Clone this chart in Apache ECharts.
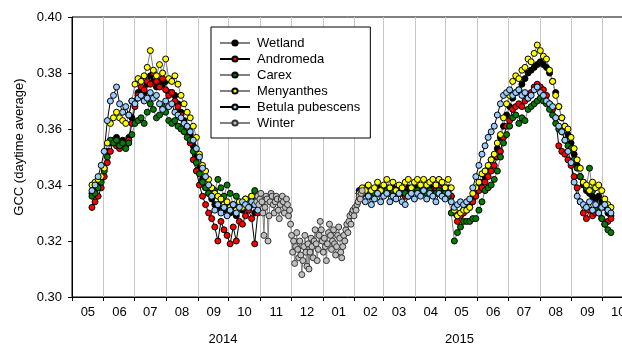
<!DOCTYPE html>
<html><head><meta charset="utf-8">
<script src="https://cdn.jsdelivr.net/npm/echarts@6/dist/echarts.min.js"></script>
<style>html,body{margin:0;padding:0;background:#fff}#c{width:622px;height:346px}</style>
</head><body><div id="c"></div>
<script>
// ---------- data ----------
const axisStart = '2014-05-01';
const axisEnd = '2015-10-31';
const yearLabels = ['2014', '2015'];
const yearLabelDates = ['2014-09-25', '2015-05-14'];
const seriesNames = ['Wetland', 'Andromeda', 'Carex', 'Menyanthes', 'Betula pubescens', 'Winter'];

const season2014Start = '2014-05-20', season2014Step = 3;
const season2015Start = '2015-02-05', season2015Step = 3;
const winterStart = '2014-10-28', winterStep = 1;
const gapDate = '2014-12-15';

const wetland2014 = [0.337,0.338,0.340,0.342,0.346,0.352,0.355,0.356,0.357,0.355,0.356,0.355,0.357,0.364,0.370,0.373,0.373,0.373,0.376,0.379,0.377,0.375,0.377,0.376,0.377,0.373,0.373,0.372,0.369,0.366,0.363,0.360,0.358,0.354,0.350,0.346,0.342,0.339,0.337,0.335,0.333,0.332,0.334,0.331,0.332,0.330,0.331,0.329,0.332,0.331,0.333,0.332,0.333,0.330,0.331];
const andromeda2014 = [0.332,0.334,0.336,0.339,0.343,0.348,0.352,0.356,0.354,0.353,0.355,0.354,0.356,0.362,0.368,0.372,0.375,0.374,0.377,0.376,0.380,0.377,0.375,0.378,0.374,0.372,0.373,0.370,0.368,0.365,0.362,0.360,0.355,0.349,0.345,0.340,0.336,0.333,0.330,0.328,0.325,0.320,0.327,0.324,0.322,0.319,0.325,0.320,0.327,0.326,0.329,0.331,0.328,0.319,0.330];
const carex2014 = [0.336,0.337,0.339,0.341,0.345,0.350,0.356,0.355,0.356,0.354,0.355,0.353,0.355,0.358,0.362,0.363,0.364,0.362,0.366,0.369,0.367,0.364,0.365,0.368,0.366,0.363,0.362,0.363,0.361,0.360,0.359,0.357,0.356,0.352,0.348,0.344,0.341,0.339,0.337,0.336,0.338,0.342,0.339,0.336,0.340,0.337,0.333,0.336,0.334,0.332,0.335,0.334,0.336,0.338,0.335];
const menyanthes2014 = [0.340,0.341,0.342,0.343,0.346,0.355,0.362,0.364,0.366,0.364,0.363,0.362,0.365,0.370,0.376,0.378,0.377,0.379,0.382,0.388,0.381,0.379,0.383,0.380,0.385,0.378,0.377,0.379,0.376,0.372,0.369,0.366,0.364,0.361,0.357,0.351,0.347,0.345,0.342,0.339,0.337,0.336,0.335,0.333,0.334,0.332,0.333,0.331,0.334,0.332,0.335,0.333,0.336,0.334,0.333];
const betula2014 = [0.338,0.340,0.343,0.347,0.352,0.363,0.370,0.372,0.375,0.369,0.366,0.368,0.365,0.370,0.369,0.371,0.372,0.370,0.371,0.373,0.371,0.372,0.369,0.367,0.370,0.368,0.369,0.366,0.365,0.364,0.362,0.361,0.359,0.356,0.353,0.350,0.346,0.343,0.340,0.336,0.331,0.333,0.330,0.332,0.329,0.331,0.333,0.330,0.332,0.334,0.333,0.332,0.334,0.333,0.331];

const winterValues = [
  0.334,0.336,0.333,0.335,
  0.337,0.334,0.330,0.322,0.332,0.336,0.335,0.320,0.329,0.334,0.337,0.336,0.333,0.330,0.334,0.336,0.335,0.331,0.328,0.333,0.335,0.336,0.334,0.330,0.332,0.335,0.333,0.329,0.331,0.326,
  0.322,0.316,0.320,0.312,0.318,0.323,0.317,0.314,0.320,0.315,0.308,0.313,0.318,0.322,0.316,0.311,0.319,0.310,0.316,0.321,0.318,0.314,0.320,0.324,0.319,0.313,0.317,0.322,0.327,0.324,0.320,
  0.316,0.321,0.318,0.313,0.319,0.323,0.326,0.322,0.317,0.320,0.324,0.319,0.315,0.318,0.322,0.325,0.321,0.316,0.314,0.318,0.322,0.320,0.324,0.326,0.323,0.327,0.329,0.326,0.330,0.331,0.329,
  0.332,0.331,0.333,0.334,0.336,0.335,0.337,0.338];

const wetland2015 = [0.338,0.338,0.339,0.338,0.338,0.338,0.339,0.338,0.339,0.339,0.338,0.339,0.338,0.338,0.338,0.338,0.339,0.338,0.339,0.339,0.339,0.339,0.339,0.339,0.339,0.338,0.340,0.339,0.339,0.339,
  0.336,0.330,0.329,0.330,0.331,0.332,0.333,0.335,0.337,0.339,0.341,0.343,0.346,0.349,0.350,0.353,0.357,0.361,0.365,0.368,0.371,0.373,0.374,0.376,0.378,0.380,0.381,0.382,0.383,0.384,0.383,0.382,0.380,0.377,0.373,0.368,0.364,0.361,0.358,0.355,0.351,0.347,0.343,0.340,0.338,0.337,0.336,0.335,0.336,0.334,0.332,0.330,0.329];
const andromeda2015 = [0.337,0.338,0.337,0.337,0.336,0.337,0.338,0.337,0.338,0.338,0.337,0.338,0.337,0.338,0.337,0.336,0.337,0.338,0.338,0.338,0.339,0.338,0.339,0.338,0.338,0.338,0.339,0.338,0.338,
  0.338,0.336,0.330,0.327,0.329,0.330,0.331,0.332,0.334,0.336,0.338,0.339,0.341,0.343,0.345,0.347,0.350,0.352,0.357,0.361,0.363,0.367,0.368,0.369,0.368,0.370,0.371,0.373,0.375,0.376,0.375,0.374,0.372,0.369,0.367,0.364,0.354,0.352,0.351,0.349,0.347,0.343,0.339,0.334,0.330,0.328,0.331,0.329,0.330,0.332,0.328,0.326,0.327,0.328];
const carex2015 = [0.337,0.337,0.338,0.337,0.336,0.337,0.337,0.338,0.337,0.338,0.337,0.338,0.337,0.337,0.338,0.337,0.336,0.337,0.338,0.338,0.337,0.338,0.337,0.338,0.337,0.337,0.338,0.337,0.337,
  0.336,0.330,0.320,0.323,0.325,0.327,0.327,0.327,0.328,0.328,0.331,0.334,0.338,0.339,0.340,0.342,0.345,0.350,0.355,0.358,0.361,0.364,0.365,0.362,0.364,0.363,0.367,0.368,0.369,0.370,0.371,0.370,0.369,0.367,0.365,0.362,0.360,0.359,0.356,0.354,0.353,0.349,0.346,0.343,0.341,0.339,0.346,0.338,0.331,0.330,0.328,0.326,0.324,0.323];
const menyanthes2015 = [0.337,0.339,0.338,0.340,0.338,0.339,0.341,0.338,0.340,0.342,0.339,0.341,0.338,0.340,0.339,0.341,0.342,0.339,0.341,0.342,0.340,0.342,0.340,0.341,0.342,0.340,0.342,0.341,0.339,0.342,
  0.339,0.331,0.329,0.330,0.331,0.331,0.332,0.337,0.339,0.341,0.344,0.345,0.347,0.349,0.351,0.355,0.358,0.364,0.369,0.372,0.377,0.379,0.378,0.381,0.382,0.385,0.384,0.387,0.390,0.388,0.386,0.385,0.381,0.377,0.372,0.368,0.364,0.361,0.360,0.357,0.353,0.349,0.346,0.341,0.340,0.338,0.341,0.339,0.340,0.338,0.335,0.333,0.332];
const betula2015 = [0.335,0.337,0.334,0.336,0.333,0.335,0.337,0.334,0.336,0.337,0.334,0.336,0.335,0.337,0.334,0.333,0.336,0.337,0.335,0.337,0.336,0.338,0.335,0.337,0.336,0.334,0.337,0.336,0.335,0.337,
  0.334,0.332,0.333,0.334,0.333,0.334,0.335,0.339,0.343,0.347,0.351,0.354,0.357,0.359,0.361,0.365,0.369,0.372,0.373,0.374,0.372,0.373,0.374,0.372,0.373,0.371,0.372,0.374,0.375,0.373,0.372,0.370,0.369,0.368,0.364,0.361,0.359,0.356,0.352,0.348,0.341,0.336,0.334,0.333,0.332,0.334,0.331,0.333,0.330,0.332,0.333,0.331,0.330];

// ---------- helpers ----------
const DAY = 86400000;
function parseUTC(s) { const p = s.split('-').map(Number); return Date.UTC(p[0], p[1] - 1, p[2]); }
function fmt(t) { return new Date(t).toISOString().slice(0, 10); }
function seq(start, step, vals) { const t0 = parseUTC(start); return vals.map((v, i) => [fmt(t0 + i * step * DAY), v]); }
function twoSeasons(a, b) { return seq(season2014Start, season2014Step, a).concat([[gapDate, '-']], seq(season2015Start, season2015Step, b)); }

const days = [];
for (let t = parseUTC(axisStart); t <= parseUTC(axisEnd); t += DAY) days.push(fmt(t));

const FONT = 'Liberation Sans, Arial, sans-serif';
const styles = [
  { fill: '#000000', line: '#808080' },
  { fill: '#ff0000', line: '#000000' },
  { fill: '#008000', line: '#808080' },
  { fill: '#ffff00', line: '#808080' },
  { fill: '#99ccff', line: '#000000' },
  { fill: '#c0c0c0', line: '#808080' }
];
const seriesData = [
  twoSeasons(wetland2014, wetland2015),
  twoSeasons(andromeda2014, andromeda2015),
  twoSeasons(carex2014, carex2015),
  twoSeasons(menyanthes2014, menyanthes2015),
  twoSeasons(betula2014, betula2015),
  seq(winterStart, winterStep, winterValues)
];

const chart = echarts.init(document.getElementById('c'), null, { renderer: 'canvas' });
chart.setOption({
  animation: false,
  textStyle: { fontFamily: FONT },
  grid: { left: 72, top: 17, width: 562, height: 280, outerBoundsMode: 'none', containLabel: false,
          show: true, borderColor: '#000', borderWidth: 1, backgroundColor: 'rgba(0,0,0,0)' },
  legend: {
    orient: 'vertical', left: 211, top: 27,
    padding: [8, 10, 7, 8],
    itemWidth: 30, itemHeight: 6.5, itemGap: 0,
    backgroundColor: '#fff', borderColor: '#000', borderWidth: 1,
    textStyle: { fontFamily: FONT, fontSize: 13, color: '#000', lineHeight: 16, padding: [0, 0, 0, 2] },
    data: seriesNames
  },
  xAxis: {
    type: 'category', data: days, boundaryGap: true,
    axisLine: { lineStyle: { color: '#000', width: 1 } },
    axisTick: { show: true, interval: (i, v) => v.slice(8) === '01', length: 4, lineStyle: { color: '#000' } },
    axisLabel: { interval: (i, v) => v.slice(8) === '16', formatter: v => v.slice(5, 7), margin: 9, fontFamily: FONT, fontSize: 13, color: '#000' },
    splitLine: { show: true, interval: (i, v) => v.slice(8) === '01', lineStyle: { color: '#c8c8c8', width: 1 } }
  },
  yAxis: {
    type: 'value', min: 0.30, max: 0.40, interval: 0.02,
    axisLine: { show: true, lineStyle: { color: '#000' } },
    axisTick: { show: true, length: 4, lineStyle: { color: '#000' } },
    axisLabel: { formatter: v => v.toFixed(2), margin: 10, fontFamily: FONT, fontSize: 13, color: '#000' },
    splitLine: { show: false },
    name: 'GCC (daytime average)', nameLocation: 'middle', nameGap: 45, nameRotate: 90,
    nameTextStyle: { fontFamily: FONT, fontSize: 13, color: '#000', padding: [0, 0, 0, 20] }
  },
  series: seriesNames.map((name, i) => ({
    name, type: 'line', data: seriesData[i],
    symbol: 'circle', symbolSize: 6, showAllSymbol: true,
    itemStyle: { color: styles[i].fill, borderColor: i === 5 ? '#333' : '#000', borderWidth: 1 },
    lineStyle: { color: styles[i].line, width: 1 },
    emphasis: { disabled: true }, silent: true
  }))
});
chart.setOption({
  graphic: yearLabels.map((t, i) => ({
    type: 'text',
    x: chart.convertToPixel({ xAxisIndex: 0 }, yearLabelDates[i]),
    y: 339,
    style: { text: t, align: 'center', verticalAlign: 'middle', font: '13px ' + FONT, fill: '#000' }
  }))
});
</script>
</body></html>
